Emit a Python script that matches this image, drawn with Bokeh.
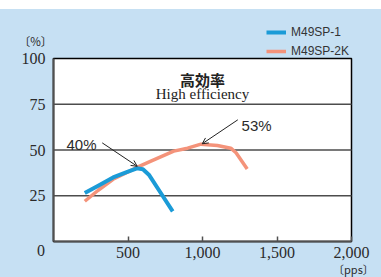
from bokeh.plotting import figure
from bokeh.models import (Range1d, FixedTicker, Label, Arrow, OpenHead, Legend, LegendItem,
                          NumeralTickFormatter)
from bokeh.embed import file_html
from bokeh.resources import INLINE

# ---- data ----
sp1_x = [210, 300, 400, 500, 560, 600, 640, 720, 800]
sp1_y = [26.5, 30.5, 35.0, 38.2, 40.0, 39.5, 36.5, 26.5, 16.5]
sp2k_x = [210, 300, 400, 500, 560, 650, 807, 900, 990, 1100, 1190, 1225, 1300]
sp2k_y = [22.0, 28.0, 34.0, 38.0, 40.5, 43.8, 49.4, 51.0, 53.2, 52.5, 51.0, 48.5, 39.6]
x_ticks = [500, 1000, 1500, 2000]
y_ticks = [25, 50, 75, 100]
grid_vals = [25, 50, 75]
series_names = ["M49SP-1", "M49SP-2K"]
X_MAX = 2000
Y_MAX = 100

BG = "#c6e0f3"
BLUE = "#1b9bd7"
ORANGE = "#f4937a"
TXT = "#2b2b2b"

# layout (pixels in the 381x277 canvas)
W, H = 381, 277
FL, FR, FT, FB = 53, 351, 58, 241   # plot-area box
sx = (FR - FL) / X_MAX
sy = (FB - FT) / Y_MAX
x_range = Range1d(-FL / sx, X_MAX + (W - FR) / sx)
y_range = Range1d(-(H - FB) / sy, Y_MAX + FT / sy)

p = figure(width=W, height=H, output_backend="svg", toolbar_location=None,
           x_range=x_range, y_range=y_range,
           min_border=0, min_border_left=0, min_border_right=0,
           min_border_top=0, min_border_bottom=0)
p.border_fill_color = None
p.background_fill_color = None
p.outline_line_color = None

# white plot area
p.quad(left=[0], right=[X_MAX], bottom=[0], top=[Y_MAX], fill_color="white",
       line_color="black", line_width=1.5, level="image")

# horizontal grid lines, limited to the plot area
p.xgrid.visible = False
p.ygrid.visible = False
p.segment(x0=[0] * len(grid_vals), x1=[X_MAX] * len(grid_vals), y0=grid_vals, y1=grid_vals,
          line_color="#4d4d4d", line_width=1.5)

# axes fixed at the origin
p.xaxis.fixed_location = 0
p.yaxis.fixed_location = 0
p.xaxis.bounds = (0, X_MAX)
p.yaxis.bounds = (0, Y_MAX)
p.xaxis.ticker = FixedTicker(ticks=x_ticks)
p.yaxis.ticker = FixedTicker(ticks=y_ticks)
p.xaxis.formatter = NumeralTickFormatter(format="0,0")
for ax in (p.xaxis, p.yaxis):
    ax.axis_line_color = "#505050"
    ax.axis_line_width = 2
    ax.minor_tick_line_color = None
    ax.major_label_text_font = "Liberation Serif"
    ax.major_label_text_font_size = "16px"
    ax.major_label_text_color = TXT
p.xaxis.major_tick_in = 5
p.xaxis.major_tick_out = 0
p.xaxis.major_tick_line_color = "#505050"
p.xaxis.major_tick_line_width = 1.5
p.xaxis.major_label_standoff = 5
p.yaxis.major_tick_in = 0
p.yaxis.major_tick_out = 0
p.yaxis.major_label_standoff = 8

# curves
r2 = p.line(sp2k_x, sp2k_y, line_color=ORANGE, line_width=3.5, line_join="round")
r1 = p.line(sp1_x, sp1_y, line_color=BLUE, line_width=4, line_join="round")

# legend (top right, above the plot area)
legend = Legend(items=[LegendItem(label=series_names[0], renderers=[r1]),
                       LegendItem(label=series_names[1], renderers=[r2])],
                location=(266, 219), orientation="vertical",
                glyph_width=20, glyph_height=12, label_height=12, label_standoff=5,
                spacing=5, padding=0, margin=0,
                border_line_color=None, background_fill_alpha=0,
                label_text_font="Liberation Sans", label_text_font_size="12px",
                label_text_color="#333333")
p.add_layout(legend, "center")

# titles
p.add_layout(Label(x=1000, y=88.5, text="高効率", text_align="center", text_baseline="alphabetic",
                   text_font="Noto Sans CJK JP", text_font_style="bold", text_font_size="15px",
                   text_color="#222222"))
p.add_layout(Label(x=1000, y=80.7, text="High efficiency", text_align="center",
                   text_baseline="alphabetic", text_font="Liberation Serif",
                   text_font_size="15px", text_color="#222222"))

# annotations
p.add_layout(Label(x=87, y=53.0, text="40%", text_align="left", text_baseline="alphabetic",
                   text_font="Liberation Sans", text_font_size="15px", text_color=TXT))
p.add_layout(Arrow(x_start=327, y_start=53.9, x_end=562, y_end=41.1,
                   line_color="#222222", line_width=1,
                   end=OpenHead(size=6, line_width=1, line_color="#222222")))
p.add_layout(Label(x=1262, y=63.4, text="53%", text_align="left", text_baseline="alphabetic",
                   text_font="Liberation Sans", text_font_size="15px", text_color=TXT))
p.add_layout(Arrow(x_start=1237, y_start=66.5, x_end=998, y_end=53.4,
                   line_color="#222222", line_width=1,
                   end=OpenHead(size=6, line_width=1, line_color="#222222")))

# unit labels and zero
p.add_layout(Label(x=-121, y=109.8, text="〔%〕", text_align="center", text_baseline="middle",
                   text_font="Noto Sans CJK JP", text_font_size="11.5px", text_color=TXT))
p.add_layout(Label(x=2013, y=-15.0, text="〔pps〕", text_align="center", text_baseline="middle",
                   text_font="Noto Sans CJK JP", text_font_size="11px", text_color=TXT))
p.add_layout(Label(x=-84, y=-4.9, text="0", text_align="center", text_baseline="middle",
                   text_font="Liberation Serif", text_font_size="16px", text_color=TXT))

html = file_html(p, INLINE)
style = ("<style>html{background:%s linear-gradient(#ffffff,#ffffff) no-repeat top left / 100%% 9px;}"
         "</style></head>" % BG)
html = html.replace("</head>", style, 1)
open("out.html", "w").write(html)
